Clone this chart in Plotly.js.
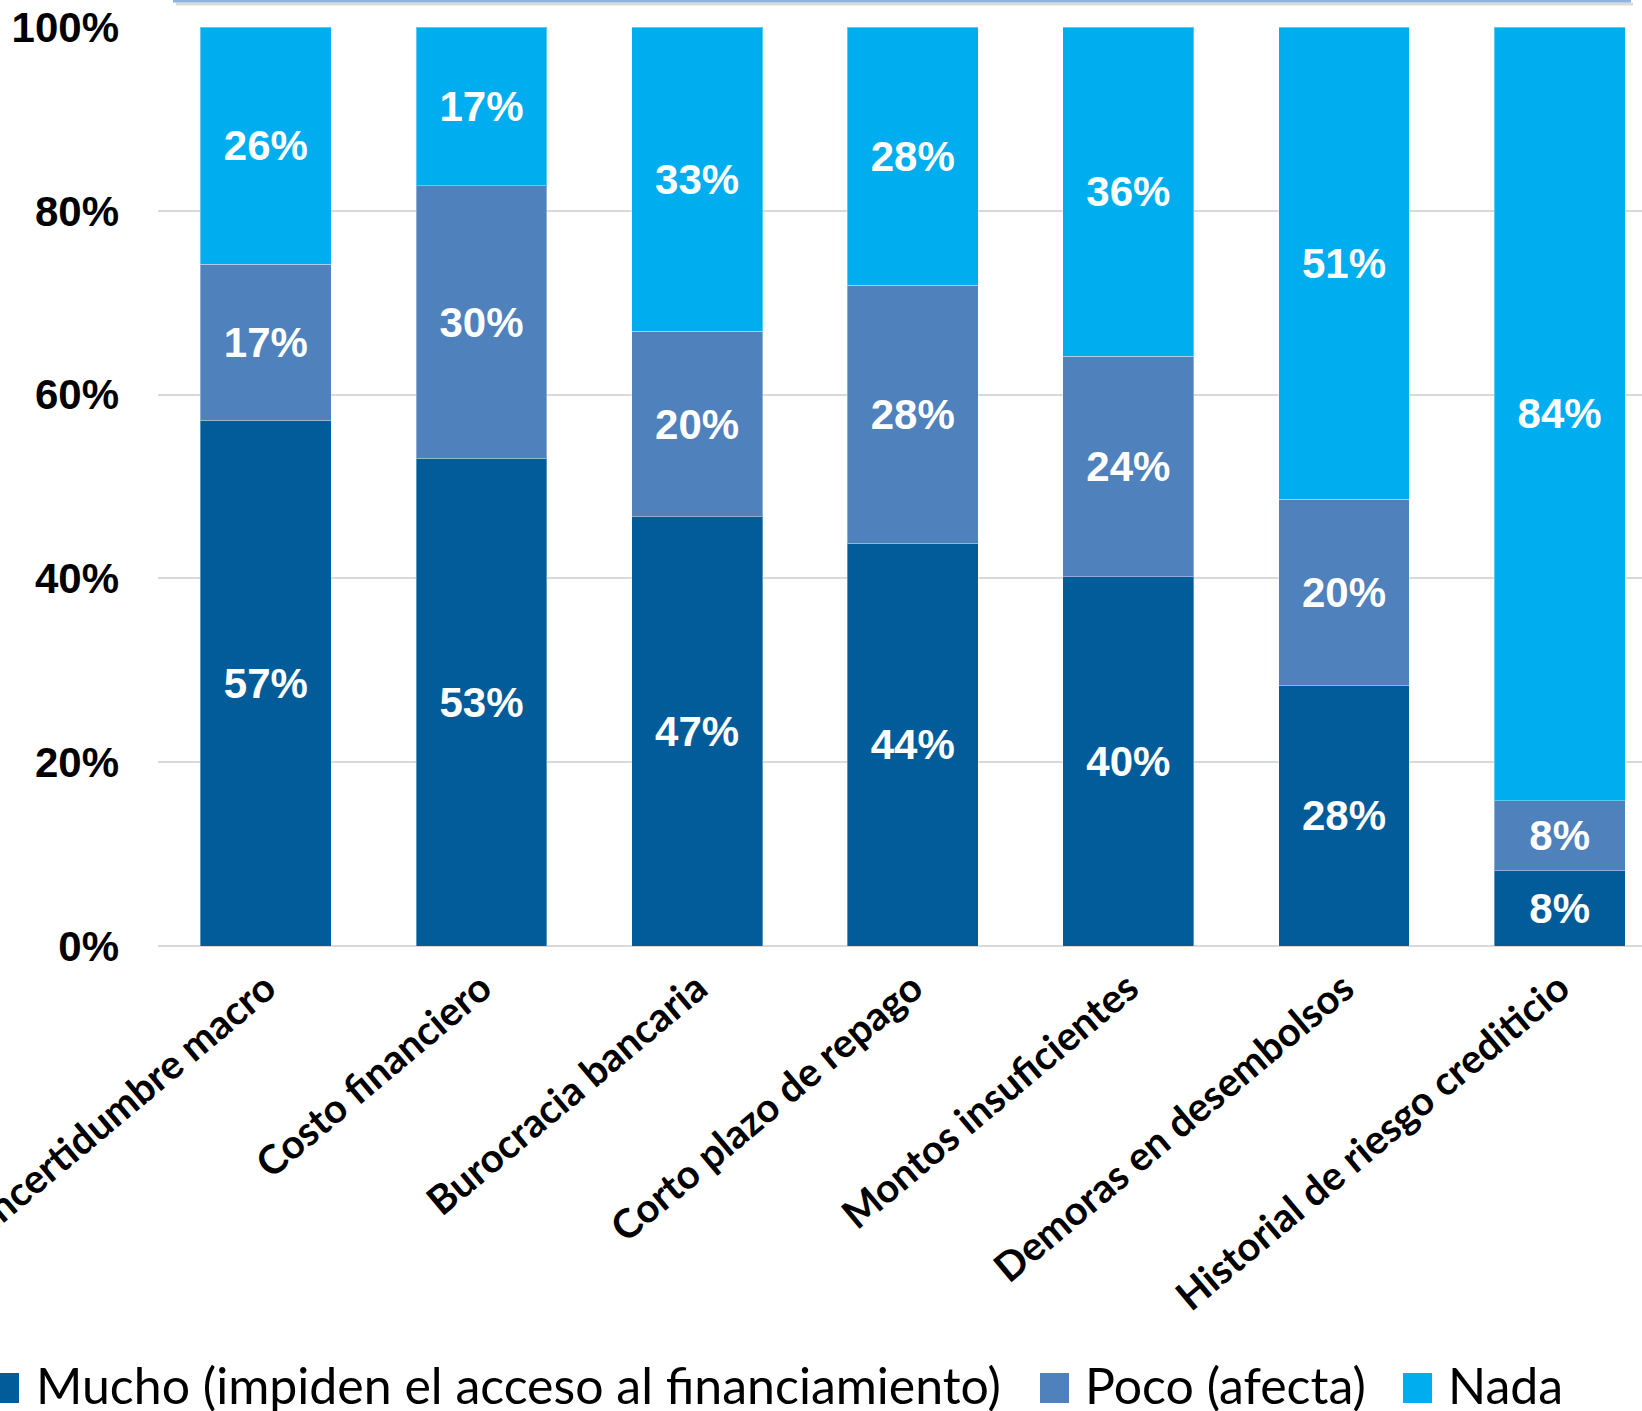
<!DOCTYPE html>
<html>
<head>
<meta charset="utf-8">
<script src="https://cdn.plot.ly/plotly-3.0.1.min.js"></script>
<style>
  html, body { margin: 0; padding: 0; background: #ffffff; }
  #chart { width: 1642px; height: 1411px; }
</style>
</head>
<body>
<div id="chart"></div>
<script>
const categories = ["Incertidumbre macro", "Costo financiero", "Burocracia bancaria", "Corto plazo de repago", "Montos insuficientes", "Demoras en desembolsos", "Historial de riesgo crediticio"];
const mucho = [57.2, 53.1, 46.7, 43.8, 40.2, 28.4, 8.2];
const poco  = [17.0, 29.6, 20.2, 28.1, 24.0, 20.2, 7.6];
const nada  = [25.8, 17.3, 33.1, 28.1, 35.8, 51.4, 84.2];
const seriesNames = ["Mucho (impiden el acceso al financiamiento)", "Poco (afecta)", "Nada"];
const seriesColors = ["#035c9a", "#4f81bd", "#00aeef"];
const yTickVals = [0, 20, 40, 60, 80, 100];
const yTickText = ["0%", "20%", "40%", "60%", "80%", "100%"];

const W = 1642, H = 1411;
const L = 158, T = 27, PB = 946;
const plotW = W - L, plotH = PB - T;
const px2x = p => (p - L) / plotW;
const py2y = p => (PB - p) / plotH;

const labelFont = {family: "Liberation Sans, Arial, sans-serif", size: 42, color: "#ffffff", weight: "bold"};

const seriesValues = [mucho, poco, nada];
const traces = seriesValues.map((vals, i) => ({
  type: "bar",
  name: seriesNames[i],
  x: categories,
  y: vals,
  marker: {color: seriesColors[i], line: {color: "rgba(255,255,255,0.35)", width: 1}},
  texttemplate: "%{y:.0f}%",
  textposition: "inside",
  insidetextanchor: "middle",
  textangle: 0,
  insidetextfont: labelFont,
  hoverinfo: "skip",
  showlegend: false
}));

// custom legend
const legendY = 1385;
const legendItems = [
  {sq: [-11, 19], tx: 34},
  {sq: [1040, 1069], tx: 1083},
  {sq: [1403, 1432], tx: 1446}
];
const shapes = [];
const annotations = [];
legendItems.forEach((it, i) => {
  shapes.push({
    type: "rect", xref: "paper", yref: "paper",
    x0: px2x(it.sq[0]), x1: px2x(it.sq[1]),
    y0: py2y(1403), y1: py2y(1373),
    fillcolor: seriesColors[i], line: {width: 0}, layer: "above"
  });
  annotations.push({
    xref: "paper", yref: "paper",
    x: px2x(it.tx), y: py2y(legendY),
    xanchor: "left", yanchor: "middle",
    text: seriesNames[i], showarrow: false,
    font: {family: "Lato, Carlito, sans-serif", size: 50, color: "#000000"}
  });
});
// partial frame line at the top
shapes.push({
  type: "line", xref: "paper", yref: "paper",
  x0: px2x(176), x1: px2x(1633), y0: py2y(4), y1: py2y(4),
  line: {color: "rgba(150,150,150,0.35)", width: 3}, layer: "above"
});
shapes.push({
  type: "line", xref: "paper", yref: "paper",
  x0: px2x(173), x1: px2x(1631), y0: py2y(1), y1: py2y(1),
  line: {color: "#8db3e2", width: 3}, layer: "above"
});

const layout = {
  width: W, height: H,
  margin: {l: L, r: 0, t: T, b: H - PB, pad: 0},
  paper_bgcolor: "#ffffff",
  plot_bgcolor: "#ffffff",
  barmode: "stack",
  bargap: 0.393,
  showlegend: false,
  xaxis: {
    type: "category",
    range: [-0.5, 6.382],
    tickangle: -40,
    tickfont: {family: "Lato, Carlito, sans-serif", size: 40, color: "#000000", weight: "bold"},
    showgrid: false, showline: false, zeroline: false,
    ticks: "", ticklabelstandoff: 10, automargin: false
  },
  yaxis: {
    range: [0, 100],
    tickvals: yTickVals,
    ticktext: yTickText,
    tickfont: {family: "Liberation Sans, Arial, sans-serif", size: 42, color: "#000000", weight: "bold"},
    showgrid: true, gridcolor: "#d9d9d9", gridwidth: 2,
    zeroline: true, zerolinecolor: "#d9d9d9", zerolinewidth: 2,
    showline: false, ticks: "", ticklabelstandoff: 38, automargin: false
  },
  shapes: shapes,
  annotations: annotations
};

Plotly.newPlot("chart", traces, layout, {displayModeBar: false, staticPlot: true});
</script>
</body>
</html>
